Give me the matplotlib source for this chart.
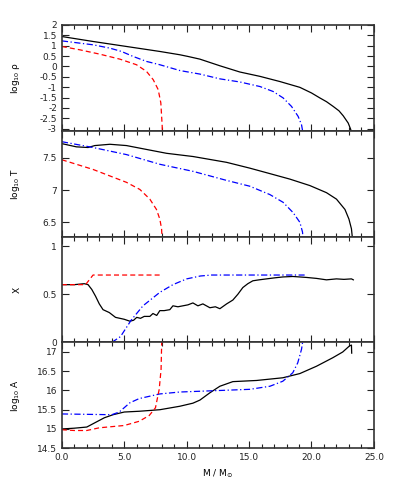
import matplotlib
matplotlib.use('Agg')
from matplotlib import pyplot as plt
from matplotlib.ticker import MultipleLocator, FormatStrFormatter

plt.rcParams['axes.unicode_minus'] = False
plt.rcParams['font.size'] = 6.5

# log10 rho
m_rho_k = [0.0, 2.51, 5.18, 7.85, 9.46, 10.1, 11.06, 12.66, 14.26, 15.87, 17.47, 19.07, 20.0, 20.67, 21.2,
           21.74, 22.2, 22.54, 22.94, 23.13, 23.2]
rho_k = [1.44, 1.20, 0.96, 0.72, 0.56, 0.48, 0.35, 0.03, -0.27, -0.48, -0.73, -1.01, -1.28, -1.52, -1.70,
         -1.93, -2.14, -2.38, -2.73, -3.02, -3.15]
m_rho_b = [0.0, 2.51, 3.85, 4.78, 5.71, 6.78, 7.85, 9.46, 11.06, 12.66, 14.26, 15.87, 16.93, 17.73, 18.4,
           18.93, 19.2, 19.3]
rho_b = [1.23, 1.04, 0.88, 0.72, 0.48, 0.24, 0.08, -0.20, -0.37, -0.60, -0.75, -0.97, -1.21, -1.52, -1.93,
         -2.41, -2.81, -3.15]
m_rho_r = [0.0, 1.44, 3.04, 4.65, 5.98, 6.78, 7.32, 7.72, 7.93, 8.04, 8.05]
rho_r = [0.96, 0.80, 0.59, 0.35, 0.08, -0.24, -0.64, -1.12, -1.76, -2.88, -3.15]

# log10 T
m_t_k = [0.0, 1.17, 2.1, 2.64, 3.85, 5.18, 6.78, 8.39, 10.52, 13.2, 15.06, 16.67, 18.27, 19.87, 21.2, 22.0,
         22.68, 23.0, 23.2, 23.28]
t_k = [7.72, 7.67, 7.66, 7.69, 7.71, 7.69, 7.63, 7.57, 7.52, 7.43, 7.34, 7.255, 7.17, 7.07, 6.96, 6.86,
       6.70, 6.55, 6.40, 6.25]
m_t_b = [0.0, 2.5, 5.18, 7.85, 10.52, 13.2, 15.06, 16.67, 17.73, 18.53, 19.07, 19.28, 19.32]
t_b = [7.75, 7.66, 7.55, 7.40, 7.29, 7.15, 7.06, 6.93, 6.81, 6.65, 6.50, 6.35, 6.25]
m_t_r = [0.0, 2.5, 5.18, 6.25, 7.05, 7.58, 7.85, 7.99, 8.03]
t_r = [7.47, 7.32, 7.12, 7.01, 6.86, 6.70, 6.55, 6.40, 6.25]

# X
m_x_k = [0.0, 1.0, 1.8, 2.1, 2.4, 2.7, 3.0, 3.3, 3.8, 4.3, 5.0, 5.45, 5.75, 6.0, 6.3, 6.6, 7.05, 7.3, 7.6, 7.85,
         8.2, 8.65, 8.9, 9.3, 9.7, 10.1, 10.5, 10.9, 11.3, 11.86, 12.3, 12.66, 13.2, 13.7, 14.1, 14.5, 14.9, 15.3,
         15.8, 16.4, 17.0, 17.7, 18.5, 19.6, 20.4, 21.2, 22.0, 22.6, 23.2, 23.35]
x_k = [0.60, 0.60, 0.61, 0.60, 0.55, 0.48, 0.40, 0.34, 0.31, 0.26, 0.24, 0.22, 0.23, 0.26, 0.25, 0.27, 0.27, 0.30, 0.28, 0.33,
       0.33, 0.34, 0.38, 0.37, 0.38, 0.39, 0.41, 0.38, 0.40, 0.36, 0.37, 0.35, 0.40, 0.44, 0.50, 0.57, 0.61, 0.64,
       0.65, 0.66, 0.67, 0.68, 0.685, 0.675, 0.665, 0.65, 0.66, 0.655, 0.66, 0.65]
m_x_b = [0.0, 4.0, 4.7, 5.55, 6.5, 7.85, 8.9, 10.0, 11.1, 12.0, 19.45]
x_b = [0.0, 0.0, 0.06, 0.23, 0.38, 0.52, 0.60, 0.66, 0.69, 0.70, 0.70]
m_x_r = [0.0, 1.9, 2.5, 8.0]
x_r = [0.60, 0.60, 0.70, 0.70]

# log10 A
m_a_k = [0.0, 1.0, 2.0, 2.7, 3.4, 4.1, 5.0, 6.2, 7.85, 9.45, 10.5, 11.06, 11.86, 12.66, 13.7, 15.6, 17.7, 19.07,
         20.4, 21.7, 22.5, 23.05, 23.2, 23.22]
a_k = [15.00, 15.02, 15.05, 15.17, 15.29, 15.37, 15.44, 15.46, 15.50, 15.59, 15.67, 15.75, 15.94, 16.11, 16.23, 16.26, 16.33, 16.44,
       16.63, 16.85, 17.00, 17.16, 17.18, 16.97]
m_a_b = [0.0, 2.0, 4.0, 4.6, 5.45, 6.2, 7.85, 9.45, 11.06, 15.06, 16.67, 17.7, 18.5, 18.9, 19.2, 19.36]
a_b = [15.39, 15.38, 15.37, 15.44, 15.68, 15.79, 15.91, 15.96, 15.98, 16.03, 16.11, 16.24, 16.46, 16.72, 17.07, 17.40]
m_a_r = [0.0, 1.0, 2.0, 3.0, 5.0, 6.2, 7.0, 7.5, 7.8, 7.95, 8.01]
a_r = [14.98, 14.96, 14.96, 15.03, 15.09, 15.20, 15.35, 15.55, 16.03, 16.55, 17.40]

ylabels = ['log$_{10}$ ρ', 'log$_{10}$ T', 'X', 'log$_{10}$ A']
ylims = [(-3.1, 2.0), (6.28, 7.92), (0.0, 1.1), (14.5, 17.25)]

series = [
    ((m_rho_k, rho_k), (m_rho_b, rho_b), (m_rho_r, rho_r)),
    ((m_t_k, t_k), (m_t_b, t_b), (m_t_r, t_r)),
    ((m_x_k, x_k), (m_x_b, x_b), (m_x_r, x_r)),
    ((m_a_k, a_k), (m_a_b, a_b), (m_a_r, a_r)),
]

fig, axes = plt.subplots(4, 1, figsize=(4.15, 4.98), dpi=100, sharex=True)
fig.subplots_adjust(left=0.149, right=0.901, top=0.95, bottom=0.1, hspace=0)

for ax, (k, b, r), lab, lim in zip(axes, series, ylabels, ylims):
    ax.plot(k[0], k[1], color='black', lw=0.9)
    ax.plot(b[0], b[1], color='#0000ff', lw=0.9, linestyle=(0, (5, 2, 1, 2)))
    ax.plot(r[0], r[1], color='#ff0000', lw=0.9, linestyle=(0, (4, 2.5)))
    ax.set_xlim(0, 25)
    ax.set_ylim(*lim)
    ax.yaxis.set_major_locator(MultipleLocator(0.5))
    ax.yaxis.set_major_formatter(FormatStrFormatter('%g'))
    ax.xaxis.set_major_locator(MultipleLocator(5))
    ax.xaxis.set_minor_locator(MultipleLocator(1))
    ax.tick_params(which='both', direction='in', top=True, right=True, colors='#222222')
    ax.tick_params(which='major', length=5, width=0.8)
    ax.tick_params(which='minor', length=3, width=0.8)
    for s in ax.spines.values():
        s.set_linewidth(1.2)
        s.set_color('#333333')
    ax.set_ylabel(lab)
    ax.yaxis.set_label_coords(-0.128, 0.5)

axes[-1].xaxis.set_major_formatter(FormatStrFormatter('%.1f'))
axes[-1].set_xlabel(r'M / M$_{\odot}$')

fig.savefig('out.png', dpi=100)
